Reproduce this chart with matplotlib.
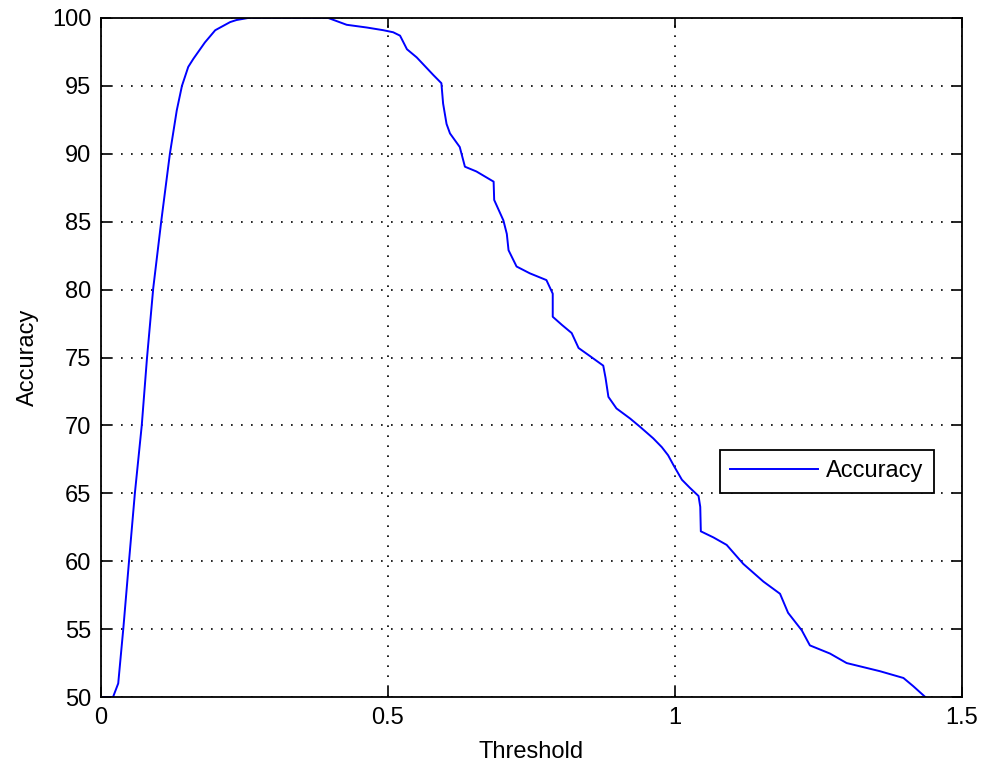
import matplotlib
matplotlib.use("Agg")
import matplotlib.pyplot as plt

plt.rcParams['font.family'] = ['Liberation Sans', 'DejaVu Sans']

threshold = [0, 0.021, 0.030, 0.039, 0.049, 0.059, 0.071, 0.080, 0.091, 0.105,
             0.120, 0.132, 0.141, 0.152, 0.161, 0.181, 0.199, 0.225, 0.236, 0.256,
             0.396, 0.428, 0.463, 0.492, 0.509, 0.521, 0.533, 0.550, 0.579, 0.593,
             0.596, 0.602, 0.608, 0.625, 0.634, 0.654, 0.684, 0.685, 0.701, 0.707,
             0.710, 0.724, 0.747, 0.776, 0.787, 0.787, 0.803, 0.820, 0.832, 0.852,
             0.875, 0.879, 0.884, 0.898, 0.922, 0.939, 0.962, 0.977, 0.988, 0.997,
             1.012, 1.026, 1.041, 1.044, 1.045, 1.067, 1.090, 1.119, 1.154, 1.183,
             1.189, 1.197, 1.221, 1.235, 1.270, 1.299, 1.357, 1.398, 1.415, 1.436]
accuracy = [50, 50, 51, 55.1, 60.1, 65.0, 70.0, 74.9, 80.1, 85.05,
            90.0, 93.2, 95.0, 96.4, 97.0, 98.2, 99.1, 99.7, 99.85, 100,
            100, 99.5, 99.3, 99.1, 98.95, 98.7, 97.7, 97.1, 95.8, 95.2,
            93.7, 92.2, 91.5, 90.5, 89.05, 88.7, 87.95, 86.6, 85.1, 84.1,
            82.9, 81.7, 81.2, 80.7, 79.7, 78.0, 77.4, 76.8, 75.7, 75.1,
            74.4, 73.5, 72.1, 71.25, 70.5, 69.9, 69.05, 68.4, 67.8, 67.1,
            66.0, 65.4, 64.8, 64.0, 62.2, 61.75, 61.2, 59.8, 58.5, 57.6,
            57.0, 56.2, 54.9, 53.8, 53.2, 52.5, 51.9, 51.4, 50.8, 50.0]

x_ticks = [0, 0.5, 1, 1.5]
x_labels = ['0', '0.5', '1', '1.5']
y_ticks = [50, 55, 60, 65, 70, 75, 80, 85, 90, 95, 100]

fig = plt.figure(figsize=(9.82, 7.62), dpi=100)
ax = fig.add_axes([101 / 982, 65 / 762, 861 / 982, 679 / 762])

ax.plot(threshold, accuracy, color='#0000ff', linewidth=1.4, label='Accuracy')

ax.set_xlim(0, 1.5)
ax.set_ylim(50, 100)
ax.set_xticks(x_ticks)
ax.set_xticklabels(x_labels)
ax.set_yticks(y_ticks)

ax.grid(True, color='black', linestyle=(0, (1, 5)), linewidth=1.2)
ax.tick_params(direction='in', length=7, width=1.2, top=True, right=True,
               labelsize=17, pad=7)
for s in ax.spines.values():
    s.set_linewidth(1.3)

ax.set_xlabel('Threshold', fontsize=17, labelpad=9)
ax.set_ylabel('Accuracy', fontsize=17, labelpad=9)

leg = ax.legend(loc='center', bbox_to_anchor=(0.843, 0.3325), fontsize=17,
                handlelength=3.7, handletextpad=0.35, fancybox=False,
                framealpha=1, borderpad=0.45, borderaxespad=0)
leg.get_frame().set_edgecolor('black')
leg.get_frame().set_linewidth(1.3)

fig.savefig('out.png', dpi=100)
